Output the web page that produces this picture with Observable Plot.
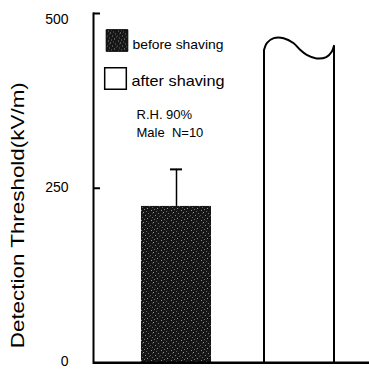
<!DOCTYPE html>
<html><head><meta charset="utf-8">
<script src="https://cdn.jsdelivr.net/npm/d3@7"></script>
<script src="https://cdn.jsdelivr.net/npm/@observablehq/plot@0.6"></script>
<style>
html,body{margin:0;padding:0;background:#fff;}
#chart{position:relative;width:369px;height:369px;}
svg text{white-space:pre;}
</style></head><body>
<svg width="0" height="0" style="position:absolute">
<defs><pattern id="speckle" width="10" height="10" patternUnits="userSpaceOnUse">
<rect width="10" height="10" fill="#161616"/>
<rect x="1" y="0" width="1" height="1" fill="#8a8a8a"/>
<rect x="6" y="1" width="1" height="1" fill="#666"/>
<rect x="3" y="2" width="1" height="1" fill="#9a9a9a"/>
<rect x="8" y="3" width="1" height="1" fill="#777"/>
<rect x="0" y="5" width="1" height="1" fill="#5a5a5a"/>
<rect x="5" y="5" width="1" height="1" fill="#888"/>
<rect x="2" y="7" width="1" height="1" fill="#6a6a6a"/>
<rect x="7" y="8" width="1" height="1" fill="#999"/>
<rect x="9" y="6" width="1" height="1" fill="#555"/>
<rect x="4" y="9" width="1" height="1" fill="#7a7a7a"/>
<rect x="2" y="3" width="1" height="1" fill="#444"/>
</pattern></defs></svg>
<div id="chart"></div>
<script>
const categories = ["before shaving", "after shaving"];
const values = [224, 447];
const errors = [53, null];
const yTicks = [0, 250, 500];
const waveFrac = [0, 0.04, 0.14, 0.28, 0.42, 0.52, 0.61, 0.75, 0.89, 0.97, 1];
const waveValues = [447, 457, 464, 464, 457, 447, 440, 435, 437, 445, 453];
const notes = ["R.H. 90%", "Male  N=10"];
const yLabel = "Detection Threshold(kV/m)";

const data = categories.map((c, i) => ({category: c, value: values[i], error: errors[i]}));
const withErr = data.filter(d => d.error != null);
const font = "Arial, 'Liberation Sans', Helvetica, sans-serif";
const topTick = yTicks[yTicks.length - 1];

const plot = Plot.plot({
  width: 369, height: 369,
  marginLeft: 93, marginRight: 0, marginTop: 13, marginBottom: 6.5,
  style: {fontFamily: font, background: "white", color: "black", overflow: "visible"},
  x: {domain: categories, paddingInner: 0.433, paddingOuter: 0.334, align: 0.576, axis: null},
  y: {domain: [0, 500], label: null, axis: null},
  marks: [
    Plot.barY(data.filter(d => d.category === categories[0]), {x: "category", y: "value", fill: "url(#speckle)"}),
    Plot.ruleX(withErr, {x: "category", y1: "value", y2: d => d.value + d.error, strokeWidth: 1.5}),
    Plot.tickY(withErr, {x: "category", y: d => d.value + d.error, strokeWidth: 2, insetLeft: 29, insetRight: 29}),
    Plot.tickY(yTicks, {y: d => d, strokeWidth: 2, insetRight: 269}),
    Plot.axisY(yTicks.filter(t => t !== topTick), {anchor: "left", tickSize: 0, tickPadding: 25, fontSize: 14, dy: -1, label: null, tickFormat: d => String(d)}),
    Plot.axisY([topTick], {anchor: "left", tickSize: 0, tickPadding: 25, fontSize: 14, dy: 6, label: null, tickFormat: d => String(d)}),
    Plot.ruleY([0], {strokeWidth: 2}),
    Plot.frame({anchor: "left", strokeWidth: 2}),
    // legend
    Plot.dot([categories[0]], {frameAnchor: "top-left", dx: 23.5, dy: 27, symbol: "square", r: 12.2, fill: "url(#speckle)", stroke: "black", strokeWidth: 1}),
    Plot.dot([categories[1]], {frameAnchor: "top-left", dx: 22, dy: 65, symbol: "square", r: 12.2, fill: "white", stroke: "black", strokeWidth: 1.5}),
    Plot.text([categories[0]], {frameAnchor: "top-left", dx: 39, dy: 31, text: d => d, textAnchor: "start", lineAnchor: "middle", fontSize: 13, ariaLabel: () => "lg0"}),
    Plot.text([categories[1]], {frameAnchor: "top-left", dx: 38, dy: 68, text: d => d, textAnchor: "start", lineAnchor: "middle", fontSize: 15, ariaLabel: () => "lg1"}),
    Plot.text([notes[0]], {frameAnchor: "top-left", dx: 43, dy: 101, text: d => d, textAnchor: "start", lineAnchor: "middle", fontSize: 13}),
    Plot.text([notes[1]], {frameAnchor: "top-left", dx: 43, dy: 119, text: d => d, textAnchor: "start", lineAnchor: "middle", fontSize: 13}),
    Plot.text([yLabel], {frameAnchor: "left", dx: -75.5, dy: 27, rotate: -90, text: d => d, textAnchor: "middle", lineAnchor: "middle", fontSize: 17.5, ariaLabel: () => "ylab"})
  ]
});

// wavy-topped outline of the "after shaving" bar, drawn through the plot's own scales
const sx = plot.scale("x"), sy = plot.scale("y");
const bx0 = sx.apply(categories[1]), bw = sx.bandwidth;
const wavePts = waveFrac.map((f, i) => [bx0 + f * bw, sy.apply(waveValues[i])]);
const waveD = d3.line().curve(d3.curveCatmullRom)(wavePts).replace(/^M/, "L");
const pathD = `M${bx0},${sy.apply(0)}${waveD}L${bx0 + bw},${sy.apply(0)}`;
d3.select(plot).append("path").attr("d", pathD).attr("fill", "white")
  .attr("stroke", "black").attr("stroke-width", 2).attr("stroke-linejoin", "round");
d3.select(plot).append("line").attr("x1", 93).attr("x2", 369)
  .attr("y1", sy.apply(0)).attr("y2", sy.apply(0)).attr("stroke", "black").attr("stroke-width", 2);

function stretch(label, len) {
  d3.select(plot).selectAll(`[aria-label="${label}"]`).each(function () {
    const el = this.tagName.toLowerCase() === "text" ? d3.select(this) : d3.select(this).select("text");
    el.attr("textLength", len).attr("lengthAdjust", "spacingAndGlyphs");
  });
}
stretch("ylab", 266);
stretch("lg0", 91);
stretch("lg1", 93);

document.getElementById("chart").append(plot);
</script>
</body></html>
